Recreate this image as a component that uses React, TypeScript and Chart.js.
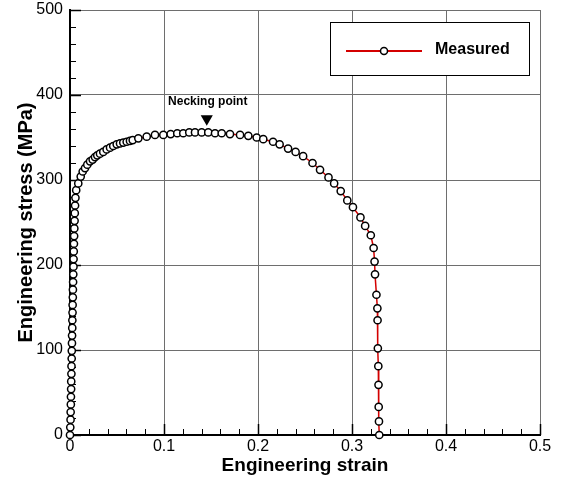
import React, { useEffect, useRef } from "react";
import { Chart, registerables } from "chart.js";

Chart.register(...registerables);

// ---- data ----
const STRAIN: number[] = [
  0.0, 0.0003, 0.0006, 0.0007, 0.0009, 0.0010, 0.0012, 0.0013, 0.0015, 0.0016,
  0.0018, 0.0019, 0.0021, 0.0022, 0.0024, 0.0025, 0.0027, 0.0028, 0.0030, 0.0031,
  0.0033, 0.0035, 0.0037, 0.0038, 0.0040, 0.0042, 0.0044, 0.0046, 0.0049, 0.0051,
  0.0054, 0.0058, 0.0066,
  0.0088, 0.0114, 0.0135, 0.0160, 0.0184, 0.0213, 0.0241, 0.0266, 0.0290, 0.0319,
  0.0354, 0.0390, 0.0426, 0.0460, 0.0497, 0.0532, 0.0567, 0.0603, 0.0638, 0.0667,
  0.0727, 0.0816,
  0.0904, 0.0993, 0.1071, 0.1141, 0.1205, 0.1269, 0.1330, 0.1401, 0.1471, 0.1543,
  0.1614, 0.1702, 0.1809, 0.1897, 0.1986, 0.2056,
  0.2160, 0.2230, 0.2320, 0.2400, 0.2480, 0.2580, 0.2660, 0.2750, 0.2810, 0.2880,
  0.2950, 0.3010, 0.3090, 0.3140, 0.3200, 0.3230, 0.3240, 0.3245, 0.3260, 0.3270,
  0.3272, 0.3275, 0.3280, 0.3282, 0.3284, 0.3287, 0.3290,
];
const STRESS: number[] = [
  0, 9, 18, 27, 36, 45, 54, 63, 72, 81,
  90, 99, 108, 117, 126, 135, 144, 153, 162, 171,
  180, 189, 198, 207, 216, 225, 234, 243, 252, 261,
  270, 279, 288,
  296, 304, 310, 314, 318, 322, 324, 327, 329, 331,
  333, 336, 338, 340, 342, 343, 344, 345, 346, 347,
  349, 351,
  353, 353, 354, 355, 355, 356, 356, 356, 356, 355,
  355, 354, 353, 352, 350, 348,
  345, 342, 337, 333, 328, 320, 312, 303, 296, 287,
  276, 268, 256, 246, 235, 220, 204, 189, 165, 149,
  135, 102, 81, 59, 33, 16, 0,
];
const SERIES_LABEL = "Measured";
const NECK_STRAIN = 0.1455;
const NECK_STRESS = 372;
const NECK_LABEL = "Necking point";
const X_TITLE = "Engineering strain";
const Y_TITLE = "Engineering stress (MPa)";
const X_MIN = 0, X_MAX = 0.5, X_STEP = 0.1, X_MINOR = 0.02;
const Y_MIN = 0, Y_MAX = 500, Y_STEP = 100, Y_MINOR = 20;

const FONT = 'Arial, "Liberation Sans", sans-serif';
const RED = "#d40000";

const tickPlugin = {
  id: "minorTicks",
  beforeDatasetsDraw(chart: any) {
    const { ctx, chartArea, scales } = chart;
    const xs = scales.x, ys = scales.y;
    ctx.save();
    ctx.strokeStyle = "#000";
    const nx = Math.round((X_MAX - X_MIN) / X_MINOR);
    for (let i = 0; i <= nx; i++) {
      const v = X_MIN + i * X_MINOR;
      const major = i % 5 === 0;
      const px = Math.round(xs.getPixelForValue(v)) + 0.5;
      ctx.lineWidth = major ? 1.5 : 1;
      ctx.beginPath();
      ctx.moveTo(px, chartArea.bottom);
      ctx.lineTo(px, chartArea.bottom - (major ? 11 : 6));
      ctx.stroke();
    }
    const ny = Math.round((Y_MAX - Y_MIN) / Y_MINOR);
    for (let i = 0; i <= ny; i++) {
      const v = Y_MIN + i * Y_MINOR;
      const major = i % 5 === 0;
      const py = Math.round(ys.getPixelForValue(v)) + 0.5;
      ctx.lineWidth = major ? 1.5 : 1;
      ctx.beginPath();
      ctx.moveTo(chartArea.left, py);
      ctx.lineTo(chartArea.left + (major ? 11 : 6), py);
      ctx.stroke();
    }
    ctx.restore();
  },
};

const overlayPlugin = {
  id: "overlay",
  afterDraw(chart: any) {
    const { ctx, chartArea, scales } = chart;
    const mx = scales.x.getPixelForValue(NECK_STRAIN);
    const my = scales.y.getPixelForValue(NECK_STRESS);
    ctx.save();
    ctx.fillStyle = "#000";
    ctx.font = `bold 12px ${FONT}`;
    ctx.textAlign = "center";
    ctx.textBaseline = "middle";
    ctx.fillText(NECK_LABEL, mx + 1, my - 17);

    // legend box
    const left = chartArea.right - 210;
    const top = chartArea.top + 12;
    const w = 199, h = 53;
    ctx.fillStyle = "#fff";
    ctx.fillRect(left, top, w, h);
    ctx.strokeStyle = "#000";
    ctx.lineWidth = 1;
    ctx.strokeRect(Math.round(left) + 0.5, Math.round(top) + 0.5, w, h);
    const ly = Math.round(top + 29);
    ctx.strokeStyle = RED;
    ctx.lineWidth = 2;
    ctx.beginPath();
    ctx.moveTo(left + 16, ly);
    ctx.lineTo(left + 92, ly);
    ctx.stroke();
    ctx.beginPath();
    ctx.arc(left + 54, ly, 3.5, 0, Math.PI * 2);
    ctx.fillStyle = "#fff";
    ctx.fill();
    ctx.strokeStyle = "#000";
    ctx.lineWidth = 1.5;
    ctx.stroke();
    ctx.fillStyle = "#000";
    ctx.font = `bold 16px ${FONT}`;
    ctx.textAlign = "left";
    ctx.textBaseline = "middle";
    ctx.fillText(SERIES_LABEL, left + 105, top + 28);
    ctx.restore();
  },
};

export default function App() {
  const ref = useRef<HTMLCanvasElement>(null);
  useEffect(() => {
    if (!ref.current) return;
    const chart = new Chart(ref.current, {
      type: "scatter",
      data: {
        datasets: [
          {
            label: SERIES_LABEL,
            data: STRAIN.map((x, i) => ({ x, y: STRESS[i] })),
            showLine: true,
            borderColor: RED,
            borderWidth: 1.5,
            tension: 0,
            pointRadius: 3.6,
            pointBorderWidth: 1.5,
            pointBackgroundColor: "#fff",
            pointBorderColor: "#000",
            clip: false as any,
          },
          {
            label: NECK_LABEL,
            data: [{ x: NECK_STRAIN, y: NECK_STRESS }],
            showLine: false,
            pointStyle: "triangle",
            pointRotation: 180,
            pointRadius: 7,
            pointBackgroundColor: "#000",
            pointBorderColor: "#000",
            pointBorderWidth: 0,
            clip: false as any,
          },
        ],
      },
      options: {
        responsive: false,
        animation: false,
        layout: { padding: { top: 10, right: 22, left: 0, bottom: 0 } },
        plugins: { legend: { display: false }, tooltip: { enabled: false } },
        scales: {
          x: {
            type: "linear",
            min: X_MIN,
            max: X_MAX,
            ticks: { stepSize: X_STEP, color: "#000", padding: 2, font: { family: FONT, size: 16 } },
            grid: { color: "#6e6e6e", lineWidth: 1, drawTicks: false },
            border: { color: "#000", width: 2 },
            title: {
              display: true,
              text: X_TITLE,
              color: "#000",
              font: { family: FONT, size: 19, weight: "bold" },
              padding: { top: 0, bottom: 2 },
            },
            afterFit: (s: any) => { s.height = 44; s.paddingLeft = 0; s.paddingRight = 0; },
          },
          y: {
            type: "linear",
            min: Y_MIN,
            max: Y_MAX,
            ticks: { stepSize: Y_STEP, color: "#000", padding: 7, font: { family: FONT, size: 16 } },
            grid: { color: "#6e6e6e", lineWidth: 1, drawTicks: false },
            border: { color: "#000", width: 2 },
            title: {
              display: true,
              text: Y_TITLE,
              color: "#000",
              font: { family: FONT, size: 20, weight: "bold" },
              padding: { top: 14, bottom: 0 },
            },
            afterFit: (s: any) => { s.width = 70; s.paddingTop = 0; s.paddingBottom = 0; },
          },
        },
      },
      plugins: [tickPlugin, overlayPlugin],
    } as any);
    return () => chart.destroy();
  }, []);
  return (
    <div style={{ position: "absolute", left: 0, top: 0, width: 562, height: 479, background: "#fff" }}>
      <canvas ref={ref} width={562} height={479} style={{ display: "block" }} />
    </div>
  );
}
